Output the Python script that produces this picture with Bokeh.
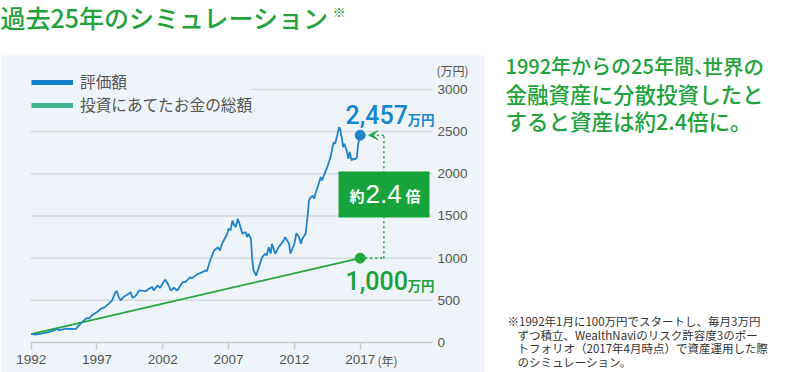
from bokeh.plotting import figure
from bokeh.models import (Range1d, FixedTicker, Label, BoxAnnotation, Legend,
                          LegendItem, Arrow, VeeHead, ColumnDataSource)
from bokeh.embed import file_html
from bokeh.resources import INLINE

# ---------------- data ----------------
years = [1992.0, 1992.4, 1992.8, 1993.35, 1993.7, 1994.0, 1994.1, 1994.6, 1995.0, 1995.4,
         1995.6, 1996.0, 1996.2, 1996.4, 1996.6, 1997.0, 1997.3, 1997.6, 1997.9, 1998.15,
         1998.4, 1998.5, 1998.65, 1998.8, 1999.0, 1999.4, 1999.55, 1999.7, 1999.85, 2000.05,
         2000.2, 2000.7, 2000.95, 2001.2, 2001.3, 2001.6, 2001.8, 2002.1, 2002.2, 2002.45,
         2002.6, 2002.85, 2003.1, 2003.5, 2003.7, 2004.1, 2004.2, 2004.6, 2005.0, 2005.25,
         2005.35, 2005.6, 2005.9, 2006.2, 2006.35, 2006.5, 2006.9, 2007.0, 2007.15, 2007.3,
         2007.4, 2007.55, 2007.7, 2007.8, 2007.9, 2008.05, 2008.3, 2008.4, 2008.5, 2008.7,
         2008.8, 2008.9, 2009.1, 2009.3, 2009.55, 2009.8, 2009.9, 2010.05, 2010.2, 2010.3,
         2010.55, 2010.8, 2011.2, 2011.3, 2011.6, 2011.7, 2012.0, 2012.15, 2012.35, 2012.5,
         2012.6, 2012.85, 2012.95, 2013.05, 2013.1, 2013.25, 2013.4, 2013.5, 2013.6, 2013.85,
         2014.0, 2014.1, 2014.25, 2014.5, 2014.75, 2014.9, 2015.0, 2015.1, 2015.25, 2015.4,
         2015.5, 2015.55, 2015.6, 2015.7, 2015.8, 2016.0, 2016.1, 2016.2, 2016.35, 2016.45,
         2016.6, 2016.75, 2016.85, 2017.0]
valuation = [100, 95, 105, 125, 140, 165, 145, 165, 160, 162,
             200, 260, 290, 285, 320, 360, 400, 420, 460, 500,
             597, 610, 540, 500, 537, 577, 597, 530, 540, 577,
             617, 608, 637, 656, 617, 676, 648, 727, 744, 676,
             617, 648, 617, 715, 715, 775, 760, 806, 834, 853,
             845, 972, 1091, 1130, 1090, 1170, 1289, 1348, 1330, 1447,
             1400, 1368, 1467, 1420, 1368, 1289, 1308, 1249, 1289, 1229,
             972, 853, 794, 893, 1012, 1052, 1032, 1130, 1052, 1170,
             1052, 1130, 1209, 1249, 1170, 1052, 1170, 1296, 1249, 1170,
             1229, 1289, 1420, 1565, 1684, 1723, 1740, 1704, 1763, 1882,
             1960, 1920, 1980, 2079, 2197, 2316, 2375, 2356, 2455, 2553,
             2514, 2455, 2434, 2316, 2356, 2257, 2178, 2257, 2158, 2178,
             2170, 2197, 2356, 2457]
invest_years = [1992, 2017]
invest_total = [100, 1000]
final_year = 2017
final_value = 2457
final_invested = 1000
ratio_text = "2.4"
x_ticks = [1992, 1997, 2002, 2007, 2012, 2017]
y_ticks = [0, 500, 1000, 1500, 2000, 2500, 3000]
x_min, x_max = 1991.95, 2022.5
legend_labels = ["評価額", "投資にあてたお金の総額"]
title_text = "過去25年のシミュレーション"
lead_line1 = ["1992年からの25年間、", "世界の"]
lead_lines = ["金融資産に分散投資したと", "すると資産は約2.4倍に。"]
note_lines = ["※1992年1月に100万円でスタートし、毎月3万円",
              "ずつ積立、WealthNaviのリスク許容度3のポー",
              "トフォリオ（2017年4月時点）で資産運用した際",
              "のシミュレーション。"]

# ---------------- style / layout ----------------
PANEL = "#eef4f9"
BLUE = "#1f84c9"
BLUE_TXT = "#1685cf"
GREEN = "#22a83c"
GREEN_TXT = "#1ba33a"
TEAL = "#3db48c"
GREY_TXT = "#555555"
JP = "Noto Sans CJK JP"
JPM = "Noto Sans CJK JP Medium"
NUM = "Liberation Sans"
BIGNUM = "Roboto Medium"

W, H = 800, 372
XPX = 13.159          # pixels per year
X0 = 30.7             # pixel of first tick
YPX = 0.084375        # pixels per 万円
Y0 = 342              # pixel row of zero
xs = x_ticks[0] - X0 / XPX
ys = -(H - Y0) / YPX

p = figure(width=W, height=H, output_backend="svg", toolbar_location=None,
           x_range=Range1d(xs, xs + W / XPX), y_range=Range1d(ys, ys + H / YPX),
           y_axis_location="right",
           min_border_left=0, min_border_right=0, min_border_top=0, min_border_bottom=0,
           background_fill_color="white", border_fill_color="white",
           outline_line_color=None)

def sx(X):
    return X

def sy(Y):
    return H - Y

def box(l, r, t, b, color, level="annotation"):
    p.add_layout(BoxAnnotation(left=sx(l), right=sx(r), top=sy(t), bottom=sy(b),
                               left_units="screen", right_units="screen",
                               top_units="screen", bottom_units="screen",
                               fill_color=color, fill_alpha=1, line_color=None, level=level))

# panel background
box(0, 484, 55, 372, PANEL, level="image")

# axes drawn inside the canvas at fixed data locations
xa = p.xaxis[0]
xa.fixed_location = 0
xa.bounds = (x_min, x_max)
xa.ticker = FixedTicker(ticks=x_ticks)
xa.axis_line_color = "#c8ccd0"
xa.axis_line_width = 1.5
xa.major_tick_line_color = "#c8ccd0"
xa.major_tick_line_width = 1.5
xa.major_tick_out = 7
xa.major_tick_in = 0
xa.minor_tick_line_color = None
xa.major_label_standoff = 5
xa.major_label_text_font = NUM
xa.major_label_text_font_size = "13.5px"
xa.major_label_text_color = GREY_TXT

ya = p.yaxis[0]
ya.fixed_location = x_max
ya.bounds = (y_ticks[0], y_ticks[-1])
ya.ticker = FixedTicker(ticks=y_ticks)
ya.axis_line_color = None
ya.major_tick_line_color = None
ya.minor_tick_line_color = None
ya.major_tick_out = 0
ya.major_tick_in = 0
ya.major_label_standoff = 5
ya.major_label_text_font = NUM
ya.major_label_text_font_size = "13.5px"
ya.major_label_text_color = GREY_TXT

p.xgrid.visible = False
p.ygrid.visible = False
grid_y = y_ticks[1:]
p.segment(x0=[x_min] * len(grid_y), y0=grid_y, x1=[x_max] * len(grid_y), y1=grid_y,
          line_color="#d5d9dd", line_width=1.5)

# leader lines (dotted)
lead_x = final_year + 1.8
lead_src = ColumnDataSource(dict(
    x0=[lead_x, final_year], y0=[final_invested, final_invested],
    x1=[lead_x, lead_x], y1=[final_value, final_invested]))
p.segment(x0="x0", y0="y0", x1="x1", y1="y1", source=lead_src,
          line_color=GREEN, line_width=1.6, line_dash="2 3")

# series
p.line(invest_years, invest_total, line_color=GREEN, line_width=1.8)
p.line(years, valuation, line_color=BLUE, line_width=1.8)
p.scatter([final_year], [final_value], size=10, fill_color=BLUE, line_color=BLUE)
p.scatter([final_year], [final_invested], size=10, fill_color=GREEN, line_color=GREEN)

# legend swatches (single-point renderers: nothing is drawn in the plot)
r1 = p.line(x=[years[0]], y=[valuation[0]], line_color="#1280cc", line_width=5)
r2 = p.line(x=[invest_years[0]], y=[invest_total[0]], line_color=TEAL, line_width=5)

# arrow toward the final point
p.add_layout(Arrow(x_start=lead_x, y_start=final_value, x_end=final_year + 0.65,
                   y_end=final_value, line_color=GREEN, line_width=1.6, line_dash="2 3",
                   end=VeeHead(size=9, fill_color=GREEN, line_color=GREEN)))

# green ratio box
box(338, 429, 171, 217, "#17a53b")

def lbl(text, X, Y, size, color, font, style="normal", align="left"):
    # Y is the vertical centre of the text
    p.add_layout(Label(x=sx(X), y=sy(Y), x_units="screen", y_units="screen", text=text,
                       text_font=font, text_font_size=size, text_color=color,
                       text_font_style=style, text_align=align, text_baseline="middle"))

lbl("約", 349, 195, "15px", "white", JP, "bold")
lbl(ratio_text, 365, 193, "26px", "white", NUM)
lbl("倍", 405, 195, "15px", "white", JP, "bold")

lbl(f"{final_value:,}", 345, 114, "25px", BLUE_TXT, BIGNUM)
lbl("万円", 407, 118, "13.5px", BLUE_TXT, JP, "bold")
lbl(f"{final_invested:,}", 345, 280, "25px", GREEN_TXT, BIGNUM)
lbl("万円", 407, 284, "13.5px", GREEN_TXT, JP, "bold")

lbl("(万円)", 436, 70, "12px", GREY_TXT, JP)
lbl("(年)", 377, 359.5, "12px", GREY_TXT, JP)

# title and texts
lbl(title_text, 0, 16.5, "25px", "#22a33c", JPM)
lbl("※", 332, 10.5, "13px", "#22a33c", JP)
lbl(lead_line1[0], 505, 65, "20px", "#20a33a", JPM)
lbl(lead_line1[1], 702, 65, "20.5px", "#20a33a", JPM)
for i, t in enumerate(lead_lines):
    lbl(t, 505, 92.5 + 27.5 * i, "21.5px", "#20a33a", JPM)
for i, t in enumerate(note_lines):
    lbl(t, 507 if i == 0 else 517, 320.5 + 13.6 * i, "11.5px", "#333333", JP)

legend = Legend(items=[LegendItem(label=legend_labels[0], renderers=[r1]),
                       LegendItem(label=legend_labels[1], renderers=[r2])],
                location=(31, H - 116), orientation="vertical",
                glyph_width=42, glyph_height=20, label_height=20, label_standoff=7,
                spacing=0, padding=0, margin=0, border_line_color=None,
                background_fill_color=PANEL, background_fill_alpha=1,
                label_text_font=JP, label_text_font_size="15.7px",
                label_text_color=GREY_TXT)
p.add_layout(legend)

open("out.html", "w").write(file_html(p, INLINE))
